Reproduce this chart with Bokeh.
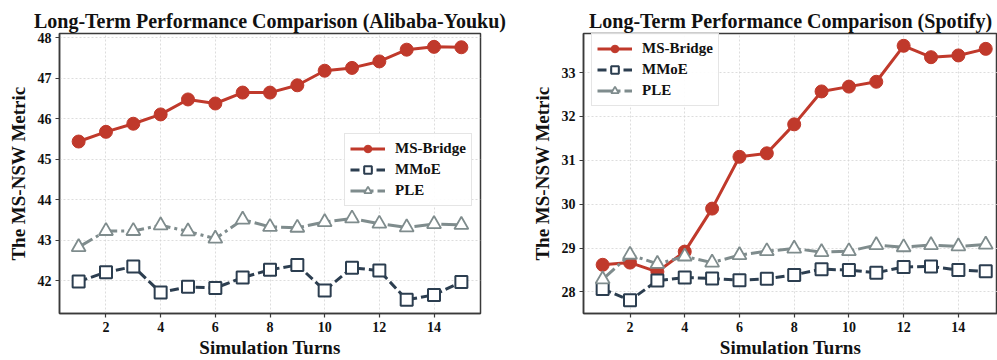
from bokeh.plotting import figure
from bokeh.layouts import row
from bokeh.models import FixedTicker, Range1d, Legend, LegendItem
from bokeh.embed import file_html
from bokeh.resources import INLINE

# Simulation turns shared by both datasets
turns = list(range(1, 16))
x_ticks = [2, 4, 6, 8, 10, 12, 14]

# Alibaba-Youku results
youku_msbridge = [45.44, 45.68, 45.88, 46.11, 46.48, 46.38, 46.65, 46.65, 46.83, 47.19, 47.26, 47.42, 47.71, 47.78, 47.77]
youku_mmoe = [41.98, 42.21, 42.35, 41.71, 41.85, 41.82, 42.08, 42.27, 42.39, 41.76, 42.32, 42.25, 41.53, 41.65, 41.97]
youku_ple = [42.83, 43.23, 43.23, 43.37, 43.22, 43.04, 43.51, 43.33, 43.31, 43.45, 43.54, 43.41, 43.32, 43.40, 43.38]
youku_yticks = [42, 43, 44, 45, 46, 47, 48]

# Spotify results
spotify_msbridge = [28.62, 28.67, 28.46, 28.92, 29.90, 31.08, 31.16, 31.82, 32.57, 32.68, 32.79, 33.61, 33.35, 33.39, 33.54]
spotify_mmoe = [28.07, 27.81, 28.26, 28.33, 28.31, 28.27, 28.30, 28.39, 28.52, 28.50, 28.44, 28.57, 28.58, 28.50, 28.47]
spotify_ple = [28.29, 28.85, 28.64, 28.81, 28.67, 28.84, 28.93, 28.99, 28.91, 28.93, 29.07, 29.02, 29.07, 29.04, 29.08]
spotify_yticks = [28, 29, 30, 31, 32, 33]

RED = "#C0392B"
NAVY = "#2C3E50"
GRAY = "#7F8C8D"
SERIF = "Liberation Serif"
SPINE = "#3a3a3a"


def panel(title, msb, mmoe, ple, yticks, x_range, y_range, width, border_left, border_right, legend_xy):
    p = figure(width=width, height=360, output_backend="svg", toolbar_location=None,
               x_range=Range1d(*x_range), y_range=Range1d(*y_range),
               min_border_left=border_left, min_border_right=border_right,
               min_border_top=33, min_border_bottom=42)
    p.title.text = title
    p.title.align = "center"
    p.title.text_font = SERIF
    p.title.text_font_style = "bold"
    p.title.text_font_size = "20px"
    p.title.text_color = "#111111"
    p.title.standoff = 3

    p.outline_line_color = SPINE
    p.outline_line_width = 1.5

    for ax in (p.xaxis[0], p.yaxis[0]):
        ax.axis_line_color = SPINE
        ax.axis_line_width = 1.5
        ax.major_tick_line_color = SPINE
        ax.major_tick_line_width = 1.2
        ax.major_tick_out = 4
        ax.major_tick_in = 0
        ax.minor_tick_line_color = None
        ax.major_label_text_font = SERIF
        ax.major_label_text_font_style = "bold"
        ax.major_label_text_font_size = "14px"
        ax.major_label_text_color = "#111111"
        ax.axis_label_text_font = SERIF
        ax.axis_label_text_font_style = "bold"
        ax.axis_label_text_font_size = "19px"
        ax.axis_label_text_color = "#111111"

    p.xaxis.ticker = FixedTicker(ticks=x_ticks)
    p.yaxis.ticker = FixedTicker(ticks=yticks)
    p.xaxis.axis_label = "Simulation Turns"
    p.yaxis.axis_label = "The MS-NSW Metric"
    p.xaxis.major_label_standoff = 4
    p.xaxis.axis_label_standoff = 2
    p.yaxis.major_label_standoff = 4
    p.yaxis.axis_label_standoff = 6

    for g in (p.xgrid[0], p.ygrid[0]):
        g.grid_line_color = "#d4d4d4"
        g.grid_line_width = 0.8
        g.grid_line_dash = "2 2"
    p.xgrid.ticker = FixedTicker(ticks=x_ticks)
    p.ygrid.ticker = FixedTicker(ticks=yticks)

    # MS-Bridge: solid red line, filled circles
    l1 = p.line(turns, msb, line_color=RED, line_width=3)
    s1 = p.scatter(turns, msb, marker="circle", size=13, fill_color=RED, line_color=RED, line_width=1)
    # MMoE: dashed navy line, hollow squares
    l2 = p.line(turns, mmoe, line_color=NAVY, line_width=3, line_dash="9 4")
    s2 = p.scatter(turns, mmoe, marker="square", size=12, fill_color="white", line_color=NAVY, line_width=2)
    # PLE: dash-dot gray line, hollow triangles
    l3 = p.line(turns, ple, line_color=GRAY, line_width=3, line_dash="16 4 3 4")
    s3 = p.scatter(turns, ple, marker="triangle", size=14, fill_color="white", line_color=GRAY, line_width=1.8)

    legend = Legend(items=[
        LegendItem(label="MS-Bridge", renderers=[l1, s1]),
        LegendItem(label="MMoE", renderers=[l2, s2]),
        LegendItem(label="PLE", renderers=[l3, s3]),
    ], location=legend_xy)
    legend.label_text_font = SERIF
    legend.label_text_font_style = "bold"
    legend.label_text_font_size = "15px"
    legend.label_text_color = "#111111"
    legend.glyph_width = 35
    legend.glyph_height = 19
    legend.label_standoff = 10
    legend.spacing = 2
    legend.padding = 5
    legend.margin = 0
    legend.border_line_color = "#cccccc"
    legend.border_line_width = 1
    legend.background_fill_alpha = 0.9
    p.add_layout(legend)
    return p


# left canvas is a little wider than its frame area so the long title fits
left = panel("Long-Term Performance Comparison (Alibaba-Youku)",
             youku_msbridge, youku_mmoe, youku_ple, youku_yticks,
             (0.3, 15.7), (41.19, 48.11), 508, 59, 28, (285, 107))
right = panel("Long-Term Performance Comparison (Spotify)",
              spotify_msbridge, spotify_mmoe, spotify_ple, spotify_yticks,
              (0.3, 15.43), (27.51, 33.89), 489, 75, 0, (8, 207))

layout = row(left, right)
open("out.html", "w").write(file_html(layout, INLINE))
